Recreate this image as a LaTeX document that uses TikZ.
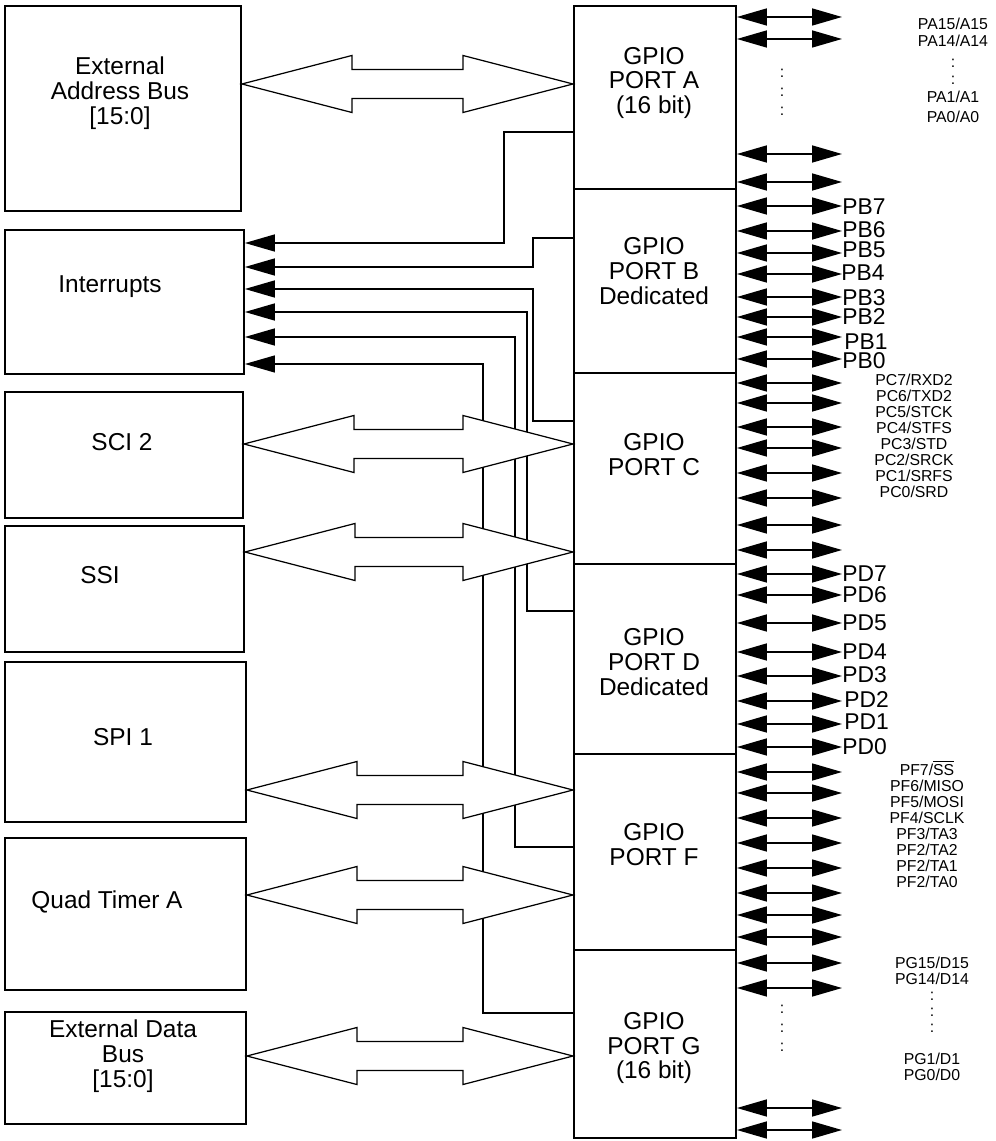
\documentclass[tikz,border=0pt]{standalone}
\usepackage{fontspec}
\setmainfont{Liberation Sans}
\usetikzlibrary{arrows.meta, calc}

% hollow two-way bus arrow between two points on one level
\newcommand{\busarrow}[2]{%
  \draw[bus] #1 -- ++(110,28.5) -- ++(0,-14) -- ($#2+(-110,14.5)$) -- ++(0,14) -- #2
    -- ++(-110,-28.5) -- ++(0,14) -- ($#1+(110,-14.5)$) -- ++(0,-14) -- cycle;}

\begin{document}
\begin{tikzpicture}[x=0.02cm, y=-0.02cm,
  blk/.style={draw, line width=1.1pt, anchor=north west, inner sep=0pt},
  port/.style={blk, minimum width=3.24cm},
  txt/.style={align=center, inner sep=0pt, font=\fontsize{13.9}{14.2}\selectfont},
  pinlbl/.style={anchor=west, inner sep=0pt, font=\fontsize{13}{13}\selectfont},
  sig/.style={align=center, inner sep=0pt, font=\fontsize{9}{9.1}\selectfont},
  irq/.style={-{Triangle[length=0.6cm, width=0.34cm]}, line width=0.9pt},
  pin/.style={{Triangle[length=0.6cm, width=0.34cm]}-{Triangle[length=0.6cm, width=0.34cm]}, line width=0.9pt},
  bus/.style={draw, fill=white, line width=0.7pt}
]
  \useasboundingbox (0,0) rectangle (995,1141);

  % peripheral blocks
  \node[blk, minimum width=4.72cm, minimum height=4.1cm] (addr) at (4,5) {};
  \node[blk, minimum width=4.78cm, minimum height=2.88cm] (irqs) at (4,229) {};
  \node[blk, minimum width=4.76cm, minimum height=2.52cm] (sci) at (4,391) {};
  \node[blk, minimum width=4.78cm, minimum height=2.52cm] (ssi) at (4,525) {};
  \node[blk, minimum width=4.82cm, minimum height=3.2cm] (spi) at (4,661) {};
  \node[blk, minimum width=4.82cm, minimum height=3.04cm] (qtmr) at (4,837) {};
  \node[blk, minimum width=4.82cm, minimum height=2.24cm] (dbus) at (4,1011) {};

  \node[txt] (addr-t) at (120,93) {External\\Address Bus\\{}[15:0]};
  \node[txt] (irqs-t) at (110,287) {Interrupts};
  \node[txt] (sci-t) at (122,442) {SCI 2};
  \node[txt] (ssi-t) at (100,575) {SSI};
  \node[txt] (spi-t) at (123,737) {SPI 1};
  \node[txt] (qtmr-t) at (107,902) {Quad Timer A};
  \node[txt] (dbus-t) at (123,1056) {External Data\\Bus\\{}[15:0]};

  % GPIO ports
  \node[port, minimum height=3.66cm] (porta) at (573,5) {};
  \node[port, minimum height=3.68cm] (portb) at (573,188) {};
  \node[port, minimum height=3.82cm] (portc) at (573,372) {};
  \node[port, minimum height=3.8cm] (portd) at (573,563) {};
  \node[port, minimum height=3.92cm] (portf) at (573,753) {};
  \node[port, minimum height=3.76cm] (portg) at (573,949) {};

  \node[txt] (porta-t) at (654,83) {GPIO\\PORT A\\(16 bit)};
  \node[txt] (portb-t) at (654,271) {GPIO\\PORT B\\Dedicated};
  \node[txt] (portc-t) at (654,455) {GPIO\\PORT C};
  \node[txt] (portd-t) at (654,662) {GPIO\\PORT D\\Dedicated};
  \node[txt] (portf-t) at (654,845) {GPIO\\PORT F};
  \node[txt] (portg-t) at (654,1048) {GPIO\\PORT G\\(16 bit)};

  % interrupt lines
  \draw[irq] (porta.west |- 0,132) -| (504,243) -- (irqs.east |- 0,243);
  \draw[irq] (portb.west |- 0,238) -| (533,267) -- (irqs.east |- 0,267);
  \draw[irq] (portc.west |- 0,421) -| (533,289) -- (irqs.east |- 0,289);
  \draw[irq] (portd.west |- 0,611) -| (527,312) -- (irqs.east |- 0,312);
  \draw[irq] (portf.west |- 0,847) -| (515,337) -- (irqs.east |- 0,337);
  \draw[irq, line width=0.7pt] (portg.west |- 0,1013) -| (483,364) -- (irqs.east |- 0,364);

  % buses
  \busarrow{(addr.east |- 0,84)}{(porta.west |- 0,84)}
  \busarrow{(sci.east |- 0,444)}{(portc.west |- 0,444)}
  \busarrow{(ssi.east |- 0,552)}{(portc.west |- 0,552)}
  \busarrow{(spi.east |- 0,790)}{(portf.west |- 0,790)}
  \busarrow{(qtmr.east |- 0,895)}{(portf.west |- 0,895)}
  \busarrow{(dbus.east |- 0,1056)}{(portg.west |- 0,1056)}

  % pins
  \foreach \y in {17,39,154,182}
    \draw[pin] (porta.east |- 0,\y) -- (842,\y);
  \foreach \y in {206,231,253,274,297,317,337,359}
    \draw[pin] (portb.east |- 0,\y) -- (842,\y);
  \foreach \y in {383,403,427,448,473,498,525,550}
    \draw[pin] (portc.east |- 0,\y) -- (842,\y);
  \foreach \y in {574,595,623,652,676,701,724,747}
    \draw[pin] (portd.east |- 0,\y) -- (842,\y);
  \foreach \y in {772,793,818,843,868,893,915,937}
    \draw[pin] (portf.east |- 0,\y) -- (842,\y);
  \foreach \y in {963,988,1108,1130}
    \draw[pin] (portg.east |- 0,\y) -- (842,\y);

  \node[sig, font=\fontsize{9}{10.8}\selectfont] (adots) at (782,92.5) {:\\:\\:};
  \node[sig, font=\fontsize{9}{10.8}\selectfont] (gdots) at (782,1028) {:\\:\\:};

  % pin names
  \node[sig, font=\fontsize{9}{9.7}\selectfont] (pa-l) at (953,70.4)
    {PA15/A15\\PA14/A14\\[2.5pt]:\\:\\[0.5pt]PA1/A1\\[1.7pt]PA0/A0};
  \node[pinlbl] (pb7) at (842,207) {PB7};
  \node[pinlbl] (pb6) at (842,230) {PB6};
  \node[pinlbl] (pb5) at (842,250) {PB5};
  \node[pinlbl] (pb4) at (841,273) {PB4};
  \node[pinlbl] (pb3) at (842,298) {PB3};
  \node[pinlbl] (pb2) at (842,317) {PB2};
  \node[pinlbl] (pb1) at (844,342) {PB1};
  \node[pinlbl] (pb0) at (842,361) {PB0};
  \node[sig] (pc-l) at (914,436)
    {PC7/RXD2\\PC6/TXD2\\PC5/STCK\\PC4/STFS\\PC3/STD\\PC2/SRCK\\PC1/SRFS\\PC0/SRD};
  \node[pinlbl] (pd7) at (842,574) {PD7};
  \node[pinlbl] (pd6) at (842,595) {PD6};
  \node[pinlbl] (pd5) at (842,623) {PD5};
  \node[pinlbl] (pd4) at (842,652) {PD4};
  \node[pinlbl] (pd3) at (842,675) {PD3};
  \node[pinlbl] (pd2) at (844,700) {PD2};
  \node[pinlbl] (pd1) at (844,722) {PD1};
  \node[pinlbl] (pd0) at (842,747) {PD0};
  \node[sig] (pf-l) at (927,824)
    {PF7/$\overline{\mbox{SS}}$\\PF6/MISO\\PF5/MOSI\\PF4/SCLK\\PF3/TA3\\PF2/TA2\\PF2/TA1\\PF2/TA0};
  \node[sig] (pg-l) at (932,1019)
    {PG15/D15\\PG14/D14\\:\\:\\:\\[9.4pt]PG1/D1\\PG0/D0};
\end{tikzpicture}
\end{document}
